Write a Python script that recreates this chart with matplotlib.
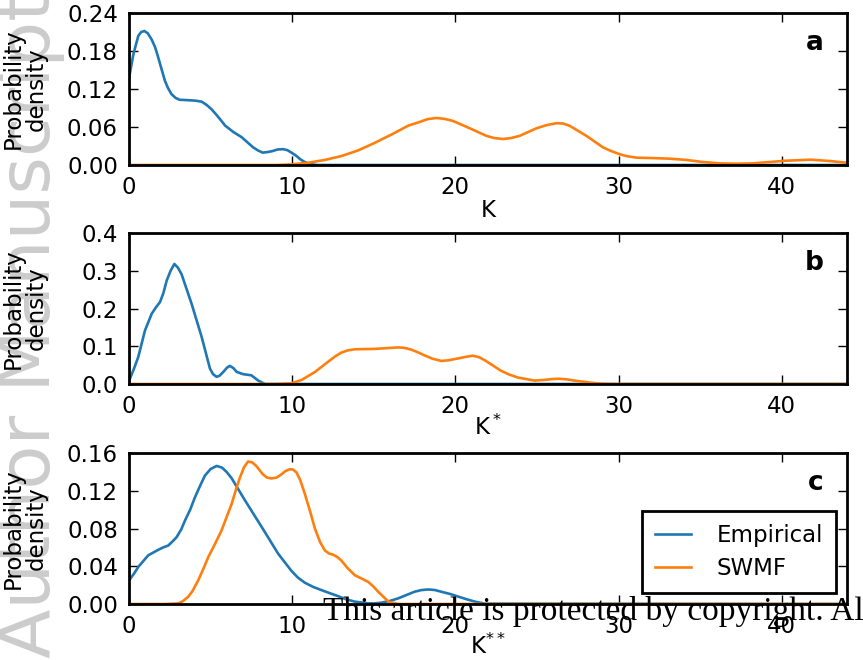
import matplotlib
matplotlib.use("Agg")
import matplotlib.pyplot as plt

# ---- data ----
# panel a: K
k_a_emp = [0, 0.27, 0.57, 0.75, 0.94, 1.15, 1.39, 1.6, 1.8, 2.0, 2.2, 2.4, 2.6, 2.85, 3.1,
           3.5, 3.84, 4.1, 4.45, 4.75, 5.06, 5.4, 5.9, 6.4, 6.9, 7.25, 7.6, 7.9, 8.2, 8.5,
           8.8, 9.1, 9.45, 9.7, 9.96, 10.25, 10.5, 10.75, 11.0, 11.5, 44]
pdf_a_emp = [0.137, 0.175, 0.204, 0.210, 0.2116, 0.208, 0.198, 0.186, 0.169, 0.151, 0.133,
             0.121, 0.112, 0.106, 0.103, 0.1025, 0.102, 0.1015, 0.100, 0.095, 0.088, 0.078,
             0.062, 0.052, 0.044, 0.036, 0.028, 0.023, 0.0195, 0.0205, 0.022, 0.0245, 0.025,
             0.0235, 0.0195, 0.0145, 0.009, 0.005, 0.002, 0.0, 0.0]
k_a_swmf = [0, 9.0, 9.96, 11.0, 12.0, 13.0, 14.04, 15.06, 16.08, 17.1, 17.82, 18.3, 18.84,
            19.35, 19.86, 20.88, 21.9, 22.4, 22.92, 23.4, 23.94, 24.97, 25.6, 26.19, 26.6,
            27.0, 28.03, 29.04, 29.5, 30.07, 30.5, 31.09, 32.0, 33.13, 34.15, 35.17, 36.19,
            37.2, 38.23, 39.25, 40.27, 41.8, 42.93, 44.0]
pdf_a_swmf = [0, 0, 0.001, 0.0037, 0.008, 0.014, 0.023, 0.035, 0.048, 0.062, 0.068, 0.0725,
              0.0742, 0.0728, 0.0695, 0.058, 0.046, 0.0425, 0.041, 0.0425, 0.046, 0.058,
              0.063, 0.066, 0.0655, 0.062, 0.046, 0.028, 0.0225, 0.017, 0.014, 0.0116, 0.011,
              0.010, 0.008, 0.0047, 0.0026, 0.002, 0.0026, 0.0047, 0.0068, 0.0084, 0.0063,
              0.0035]

# panel b: K*
k_b_emp = [0, 0.3, 0.57, 0.98, 1.39, 1.65, 1.9, 2.1, 2.31, 2.55, 2.78, 3.0, 3.22, 3.84, 4.45,
           4.96, 5.15, 5.37, 5.55, 5.78, 6.0, 6.18, 6.4, 6.6, 7.0, 7.5, 7.92, 8.33, 44]
pdf_b_emp = [0.008, 0.04, 0.072, 0.142, 0.186, 0.203, 0.217, 0.24, 0.274, 0.30, 0.318, 0.308,
             0.291, 0.212, 0.125, 0.041, 0.026, 0.019, 0.022, 0.032, 0.043, 0.048, 0.042,
             0.032, 0.026, 0.023, 0.009, 0, 0]
k_b_swmf = [0, 8.94, 9.96, 10.57, 11.4, 12.2, 12.6, 13.0, 13.4, 13.84, 14.4, 15.06, 15.8,
            16.5, 16.9, 17.3, 17.7, 18.1, 18.6, 19.14, 19.6, 20.2, 20.65, 21.08, 21.45, 21.8,
            22.3, 22.8, 23.3, 23.84, 24.86, 25.5, 25.9, 26.3, 26.8, 27.3, 28.3, 28.9, 29.5, 44]
pdf_b_swmf = [0, 0, 0.002, 0.0105, 0.032, 0.059, 0.072, 0.083, 0.089, 0.092, 0.0925, 0.093,
              0.095, 0.097, 0.0955, 0.091, 0.084, 0.076, 0.067, 0.061, 0.063, 0.068, 0.072,
              0.075, 0.071, 0.063, 0.049, 0.035, 0.025, 0.017, 0.009, 0.011, 0.013, 0.014,
              0.0125, 0.009, 0.0035, 0.001, 0, 0]

# panel c: K**
k_c_emp = [0, 0.3, 0.57, 0.9, 1.18, 1.8, 2.1, 2.41, 2.65, 2.92, 3.2, 3.43, 3.75, 4.04, 4.35,
           4.65, 5.0, 5.37, 5.7, 5.98, 6.3, 6.69, 7.1, 7.5, 8.33, 9.14, 9.96, 10.35, 10.78,
           11.3, 11.8, 12.3, 12.8, 13.3, 13.84, 14.65, 15.0, 15.47, 16.0, 16.5, 17.0, 17.5,
           17.9, 18.33, 18.75, 19.14, 19.7, 20.2, 20.7, 21.2, 21.8, 44]
pdf_c_emp = [0.025, 0.032, 0.0393, 0.046, 0.0516, 0.0575, 0.06, 0.062, 0.066, 0.0709, 0.079,
             0.0884, 0.100, 0.113, 0.125, 0.136, 0.143, 0.1463, 0.1445, 0.140, 0.133, 0.1218,
             0.110, 0.099, 0.0761, 0.0533, 0.035, 0.028, 0.0225, 0.018, 0.0147, 0.0115,
             0.0084, 0.005, 0.0025, 0.0007, 0.0006, 0.0014, 0.0033, 0.006, 0.0095, 0.013,
             0.0147, 0.0154, 0.0148, 0.013, 0.0105, 0.0077, 0.005, 0.0025, 0.0004, 0]
k_c_swmf = [0, 2.2, 3.02, 3.3, 3.63, 3.9, 4.24, 4.55, 4.86, 5.25, 5.67, 5.98, 6.29, 6.55,
            6.8, 7.05, 7.3, 7.55, 7.8, 8.0, 8.2, 8.45, 8.73, 9.05, 9.35, 9.6, 9.86, 10.05,
            10.27, 10.5, 10.78, 11.1, 11.4, 11.7, 12.0, 12.25, 12.5, 12.75, 13.0, 13.4,
            13.84, 14.25, 14.65, 14.95, 15.27, 15.6, 15.9, 16.5, 44]
pdf_c_swmf = [0, 0, 0.0007, 0.003, 0.0077, 0.014, 0.025, 0.037, 0.0498, 0.063, 0.0779,
              0.092, 0.106, 0.121, 0.134, 0.145, 0.151, 0.150, 0.1463, 0.1418, 0.1375, 0.134,
              0.133, 0.134, 0.1375, 0.141, 0.1428, 0.1425, 0.1393, 0.131, 0.1165, 0.098,
              0.0796, 0.066, 0.0568, 0.0535, 0.0523, 0.05, 0.0463, 0.038, 0.0305, 0.027,
              0.0235, 0.019, 0.013, 0.0075, 0.0025, 0, 0]

x_ticks = [0, 10, 20, 30, 40]
y_ticks_a = [0.00, 0.06, 0.12, 0.18, 0.24]
y_ticks_b = [0.0, 0.1, 0.2, 0.3, 0.4]
y_ticks_c = [0.00, 0.04, 0.08, 0.12, 0.16]
x_labels = ['K', r'K$^*$', r'K$^{**}$']
panel_tags = ['a', 'b', 'c']
series_names = ['Empirical', 'SWMF']

FS = 16.5
BLUE = '#1f77b4'
ORANGE = '#ff7f0e'

plt.rcParams['font.family'] = 'DejaVu Sans'
plt.rcParams['mathtext.default'] = 'regular'

fig = plt.figure(figsize=(8.63, 6.6), dpi=100)
fig.patch.set_facecolor('white')

# watermark on the left edge
fig.text(50 / 863, 2 / 660, 'Author Manuscript', rotation=90, rotation_mode='anchor',
         ha='left', va='baseline', fontsize=52, color='#cccccc', zorder=-1)

left, width = 129 / 863, 718 / 863
rects = [(left, 495 / 660, width, 152 / 660),
         (left, 276 / 660, width, 151 / 660),
         (left, 56 / 660, width, 151 / 660)]

panels = [
    (k_a_emp, pdf_a_emp, k_a_swmf, pdf_a_swmf, y_ticks_a, '%.2f', -0.222),
    (k_b_emp, pdf_b_emp, k_b_swmf, pdf_b_swmf, y_ticks_b, '%.1f', -0.205),
    (k_c_emp, pdf_c_emp, k_c_swmf, pdf_c_swmf, y_ticks_c, '%.2f', -0.200),
]

for i, (ke, pe, ks, ps, yt, fmt, xl_y) in enumerate(panels):
    ax = fig.add_axes(rects[i])
    ax.plot(ke, pe, color=BLUE, lw=1.9, label=series_names[0], solid_joinstyle='round')
    ax.plot(ks, ps, color=ORANGE, lw=1.9, label=series_names[1], solid_joinstyle='round')
    ax.set_xlim(0, 44)
    ax.set_ylim(yt[0], yt[-1])
    ax.set_xticks(x_ticks)
    ax.set_yticks(yt)
    ax.set_yticklabels([fmt % v for v in yt])
    ax.tick_params(direction='in', top=True, right=True, length=6.5, width=1,
                   pad=8, labelsize=FS)
    for sp in ax.spines.values():
        sp.set_linewidth(2)
    ax.set_ylabel('Probability\ndensity', fontsize=FS, linespacing=1.0)
    ax.yaxis.set_label_coords(-0.113, 0.5)
    ax.set_xlabel(x_labels[i], fontsize=FS)
    ax.xaxis.set_label_coords(0.5, xl_y)
    ax.text(0.967, 0.757, panel_tags[i], transform=ax.transAxes, ha='right',
            va='baseline', fontsize=19, fontweight='bold')
    if i == 2:
        leg = ax.legend(loc='lower right', fontsize=FS, fancybox=False, framealpha=1,
                        edgecolor='black', borderpad=0.55, handlelength=1.6,
                        handletextpad=1.1, labelspacing=0.45, borderaxespad=0.5)
        leg.get_frame().set_linewidth(2)

fig.text(323 / 863, 40 / 660, 'This article is protected by copyright. Al',
         family='Liberation Serif', fontsize=24, va='baseline', ha='left', zorder=5)

fig.savefig('out.png', dpi=100, facecolor='white')
